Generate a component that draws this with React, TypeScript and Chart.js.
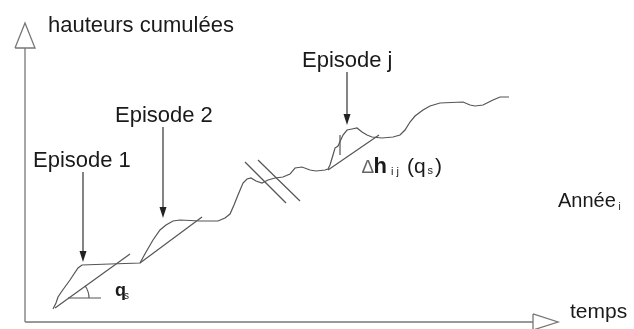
import React, { useEffect, useRef } from 'react';
import { Chart, registerables } from 'chart.js';

Chart.register(...registerables);

// ---- data (temps = x, hauteurs cumulées = y) ----
const curveTemps = [
  5.6, 6.2, 6.6, 7.4, 9.0, 10.6, 11.4, 17, 23, 24.2, 25.6, 27, 28.2, 29.6, 31, 35, 38.6, 40, 41,
  41.8, 42.6, 43.6, 44.4, 45.2, 46.2, 47.4, 48.6, 50, 51.6, 53, 54, 55.4, 57, 58.2, 60, 60.6, 61,
  61.6, 62, 62.6, 63.6, 64.4, 65.4, 66.4, 67.4, 68.4, 69.4, 71.4, 73.6, 75, 76, 77, 78, 79.6, 81,
  83, 87.6, 89, 90, 91.6, 93.6, 95, 96.8,
];
const curveHauteurs = [
  4.33, 6.33, 8.33, 10.33, 14, 18, 19, 19.33, 19.67, 23.33, 27.33, 30.67, 32.33, 33.67, 34, 33.67,
  33.67, 34.67, 36, 39, 42.33, 46.33, 47.67, 48, 47, 46.33, 47.33, 48, 48.33, 49.33, 51.33, 51.67,
  50.67, 50.33, 50.67, 51, 52.33, 55.67, 58, 58.67, 62.33, 64, 64.33, 64.67, 63.33, 62.33, 61.67,
  61.33, 61.67, 62.33, 64, 66.67, 68.67, 70.67, 72, 73, 73.33, 72.33, 72, 72.33, 74, 75, 75,
];

// tangents (slope q_s) of the episodes
const tangent1Temps = [6, 21];
const tangent1Hauteurs = [4.67, 22.67];
const tangent2Temps = [23, 35.4];
const tangent2Hauteurs = [19.67, 35];
const tangentJTemps = [60.6, 70.8];
const tangentJHauteurs = [50.67, 62.33];

// Δh for episode j
const deltaJTemps = [63, 63];
const deltaJHauteurs = [62.33, 55.67];

// horizontal reference of the angle q_s
const angleRefTemps = [8.6, 15.2];
const angleRefHauteurs = [8, 8];

// break marks (//)
const break1Temps = [44, 52.2];
const break1Hauteurs = [53.33, 39.67];
const break2Temps = [46.6, 55];
const break2Hauteurs = [54, 40.33];

// episode arrows: temps, top, tip
const arrowTemps = [11.6, 27.6, 64.4];
const arrowTop = [50, 65, 83.33];
const arrowTip = [20, 34.67, 65.67];

// axes
const X_MAX = 106.6;
const Y_MAX = 99.67;
const yAxisTemps = [0, 0];
const yAxisHauteurs = [0, 91.33];
const yArrowTemps = [-2, 0, 2, -2];
const yArrowHauteurs = [91.33, Y_MAX, 91.33, 91.33];
const xAxisTemps = [0, 101.6];
const xAxisHauteurs = [0, 0];
const xArrowTemps = [101.6, X_MAX, 101.6, 101.6];
const xArrowHauteurs = [2.67, 0, -2.67, 2.67];

// text labels
const FONT = '"Liberation Sans", Arial, sans-serif';
type Run = { t: string; size: number; bold?: boolean; dy?: number; color?: string; dx?: number };
const labels: { x: number; y: number; runs: Run[] }[] = [
  { x: 4.6, y: 96.67, runs: [{ t: 'hauteurs cumulées', size: 22 }] },
  { x: 1.6, y: 51.67, runs: [{ t: 'Episode 1', size: 22 }] },
  { x: 18, y: 66.67, runs: [{ t: 'Episode 2', size: 22 }] },
  { x: 55.4, y: 85, runs: [{ t: 'Episode j', size: 22 }] },
  {
    x: 67.4,
    y: 49.67,
    runs: [
      { t: '∆', size: 19, color: '#666' },
      { t: 'h', size: 22, bold: true },
      { t: ' i j', size: 11, dy: 2, dx: 1 },
      { t: ' (q', size: 21, dx: 2 },
      { t: 's', size: 11, dy: 1, dx: 2 },
      { t: ')', size: 21, dx: 2 },
    ],
  },
  { x: 106.6, y: 38.33, runs: [{ t: 'Année', size: 20 }, { t: ' i', size: 10, dy: 3 }] },
  { x: 109, y: 1.33, runs: [{ t: 'temps', size: 21 }] },
  { x: 18, y: 8.67, runs: [{ t: 'q', size: 18, bold: true }, { t: 's', size: 10, dy: 3, dx: -2 }] },
];

const LINE = '#555';
const AXIS = '#777';

function toPts(xs: number[], ys: number[]) {
  return xs.map((x, i) => ({ x, y: ys[i] }));
}

function seg(xs: number[], ys: number[], color = LINE, width = 1.2) {
  return {
    data: toPts(xs, ys),
    showLine: true,
    borderColor: color,
    borderWidth: width,
    pointRadius: 0,
    tension: 0,
    fill: false,
    clip: false as const,
  };
}

const overlay = {
  id: 'overlay',
  afterDatasetsDraw(chart: any) {
    const ctx = chart.ctx as CanvasRenderingContext2D;
    const xs = chart.scales.x;
    const ys = chart.scales.y;
    ctx.save();
    // arrow heads
    ctx.fillStyle = '#222';
    arrowTemps.forEach((t, i) => {
      const px = xs.getPixelForValue(t);
      const tip = ys.getPixelForValue(arrowTip[i]);
      ctx.beginPath();
      ctx.moveTo(px, tip);
      ctx.lineTo(px - 3.5, tip - 11);
      ctx.lineTo(px + 3.5, tip - 11);
      ctx.closePath();
      ctx.fill();
    });
    // angle arc q_s
    const vx = xs.getPixelForValue(angleRefTemps[0]);
    const vy = ys.getPixelForValue(angleRefHauteurs[0]);
    const ax = xs.getPixelForValue(tangent1Temps[1]) - xs.getPixelForValue(tangent1Temps[0]);
    const ay = ys.getPixelForValue(tangent1Hauteurs[1]) - ys.getPixelForValue(tangent1Hauteurs[0]);
    const ang = Math.atan2(ay, ax);
    ctx.strokeStyle = LINE;
    ctx.lineWidth = 1.2;
    ctx.beginPath();
    ctx.arc(vx, vy, 21, ang, 0);
    ctx.stroke();
    // labels
    ctx.textBaseline = 'alphabetic';
    ctx.textAlign = 'left';
    labels.forEach((l) => {
      let x = xs.getPixelForValue(l.x);
      const y = ys.getPixelForValue(l.y);
      l.runs.forEach((r) => {
        ctx.font = `${r.bold ? 'bold ' : ''}${r.size}px ${FONT}`;
        ctx.fillStyle = r.color || '#1a1a1a';
        x += r.dx || 0;
        ctx.fillText(r.t, x, y + (r.dy || 0));
        x += ctx.measureText(r.t).width;
      });
    });
    ctx.restore();
  },
};

export default function App() {
  const ref = useRef<HTMLCanvasElement | null>(null);
  useEffect(() => {
    if (!ref.current) return;
    const arrowSegs = arrowTemps.map((t, i) => seg([t, t], [arrowTop[i], arrowTip[i] + 3], '#333', 1.2));
    const chart = new Chart(ref.current, {
      type: 'scatter',
      data: {
        datasets: [
          seg(yAxisTemps, yAxisHauteurs, AXIS, 1.3),
          seg(yArrowTemps, yArrowHauteurs, AXIS, 1.3),
          seg(xAxisTemps, xAxisHauteurs, AXIS, 1.3),
          seg(xArrowTemps, xArrowHauteurs, AXIS, 1.3),
          seg(curveTemps, curveHauteurs),
          seg(tangent1Temps, tangent1Hauteurs),
          seg(tangent2Temps, tangent2Hauteurs),
          seg(tangentJTemps, tangentJHauteurs),
          seg(deltaJTemps, deltaJHauteurs),
          seg(angleRefTemps, angleRefHauteurs),
          seg(break1Temps, break1Hauteurs),
          seg(break2Temps, break2Hauteurs),
          ...arrowSegs,
        ] as any,
      },
      options: {
        animation: false,
        responsive: false,
        devicePixelRatio: 1,
        layout: { padding: { left: 25, right: 76, top: 23, bottom: 7 } },
        plugins: { legend: { display: false }, tooltip: { enabled: false } },
        scales: {
          x: { type: 'linear', min: 0, max: X_MAX, display: false },
          y: { type: 'linear', min: 0, max: Y_MAX, display: false },
        },
      },
      plugins: [overlay],
    });
    return () => chart.destroy();
  }, []);
  return (
    <div style={{ position: 'fixed', left: 0, top: 0, width: 634, height: 329, background: '#fff' }}>
      <canvas ref={ref} width={634} height={329} style={{ display: 'block', width: 634, height: 329 }} />
    </div>
  );
}
